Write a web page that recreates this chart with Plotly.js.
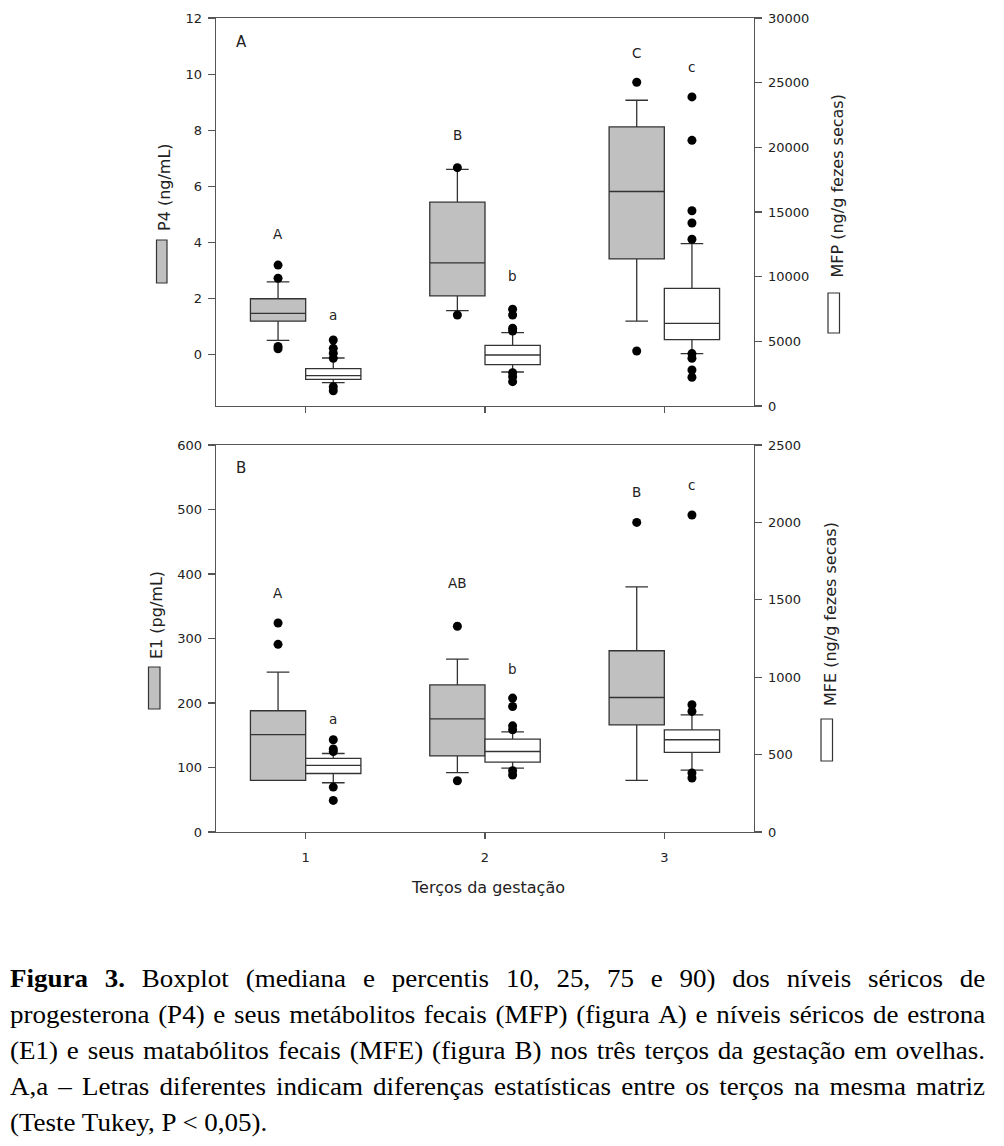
<!DOCTYPE html>
<html><head><meta charset="utf-8">
<script src="https://cdn.plot.ly/plotly-3.0.1.min.js"></script>
<style>
body{margin:0;background:#fff;}
#chart{position:absolute;left:0;top:0;width:1004px;height:1146px;}
#caption{position:absolute;left:10px;top:961px;width:903px;transform:scaleX(1.08);transform-origin:0 0;font-family:'Liberation Serif','Times New Roman',serif;font-size:25px;line-height:36px;color:#000;}
.jl{display:flex;justify-content:space-between;white-space:nowrap;}
.ll{white-space:nowrap;}
</style></head><body>
<div id="chart"></div>
<div id="caption"></div>
<script>
// ---------- data ----------
const thirds = [1, 2, 3];

// Panel A: P4 (ng/mL) - left axis
const p4P10 = [0.52, 1.58, 1.20];
const p4Q1  = [1.20, 2.10, 3.42];
const p4Med = [1.48, 3.28, 5.82];
const p4Q3  = [2.00, 5.44, 8.12];
const p4P90 = [2.60, 6.61, 9.07];
const p4Out = [[3.20, 2.73, 0.30, 0.22], [6.67, 1.42], [9.71, 0.14]];
const p4Letters = ['A', 'B', 'C'];
const p4LetterY = [4.3, 7.85, 10.77];

// Panel A: MFP (ng/g fezes secas) - right axis
const mfpP10 = [1802, 2629, 4044];
const mfpQ1  = [2064, 3195, 5126];
const mfpMed = [2343, 3943, 6394];
const mfpQ3  = [2884, 4691, 9100];
const mfpP90 = [3711, 5669, 12549];
const mfpOut = [[5100, 4460, 4080, 3690, 1490, 1180],
                [7480, 7040, 6010, 5800, 2580, 2270, 1880],
                [23900, 20540, 15100, 14150, 12890, 4050, 3690, 2780, 2220]];
const mfpLetters = ['a', 'b', 'c'];
const mfpLetterY = [7040, 10050, 26240];

// Panel B: E1 (pg/mL) - left axis
const e1P10 = [80, 92, 80];
const e1Q1  = [80, 118, 166];
const e1Med = [151, 175.5, 208.5];
const e1Q3  = [188, 228, 281];
const e1P90 = [248, 268, 380];
const e1Out = [[324, 291], [319, 79.5], [480]];
const e1Letters = ['A', 'AB', 'B'];
const e1LetterY = [371, 386, 527];

// Panel B: MFE (ng/g fezes secas) - right axis
const mfeP10 = [318, 413, 400];
const mfeQ1  = [378, 452, 514];
const mfeMed = [430, 520, 596];
const mfeQ3  = [475, 600, 660];
const mfeP90 = [507, 647, 757];
const mfeOut = [[596, 536, 520, 290, 204], [865, 811, 686, 660, 396, 368], [2048, 822, 779, 381, 349]];
const mfeLetters = ['a', 'b', 'c'];
const mfeLetterY = [729, 1056, 2242];

const p4Ticks  = [0, 2, 4, 6, 8, 10, 12];
const mfpTicks = [0, 5000, 10000, 15000, 20000, 25000, 30000];
const e1Ticks  = [0, 100, 200, 300, 400, 500, 600];
const mfeTicks = [0, 500, 1000, 1500, 2000, 2500];

const captionLines = [
  ['**Figura', '**3.', 'Boxplot', '(mediana', 'e', 'percentis', '10,', '25,', '75', 'e', '90)', 'dos', 'níveis', 'séricos', 'de'],
  'progesterona (P4) e seus metábolitos fecais (MFP) (figura A) e níveis séricos de estrona'.split(' '),
  '(E1) e seus matabólitos fecais (MFE)  (figura B) nos três terços da gestação em ovelhas.'.split(' ').filter(w => w.length),
  'A,a – Letras diferentes indicam diferenças estatísticas entre os terços na mesma matriz'.split(' ')
];
const captionLast = '(Teste Tukey, P < 0,05).';

// ---------- styles ----------
const GRAY = '#c0c0c0';
const LINE = '#333333';
const AXC = '#555555';
const OFF = 0.154;
const BOXW = 0.308;

function boxTrace(lo, q1, med, q3, hi, offset, fill, xa, ya) {
  return {
    type: 'box', x: thirds.map(t => t + offset),
    lowerfence: lo, q1: q1, median: med, q3: q3, upperfence: hi,
    width: BOXW, whiskerwidth: 0.41, fillcolor: fill,
    line: {color: LINE, width: 1.3}, boxpoints: false,
    xaxis: xa, yaxis: ya, hoverinfo: 'skip'
  };
}
function outTrace(groups, offset, xa, ya) {
  const xs = [], ys = [];
  groups.forEach((g, i) => g.forEach(v => { xs.push(thirds[i] + offset); ys.push(v); }));
  return {type: 'scatter', mode: 'markers', x: xs, y: ys, xaxis: xa, yaxis: ya,
          marker: {color: '#000', size: 9}, hoverinfo: 'skip'};
}

const traces = [
  boxTrace(p4P10, p4Q1, p4Med, p4Q3, p4P90, -OFF, GRAY, 'x', 'y'),
  outTrace(p4Out, -OFF, 'x', 'y'),
  boxTrace(mfpP10, mfpQ1, mfpMed, mfpQ3, mfpP90, OFF, '#ffffff', 'x', 'y2'),
  outTrace(mfpOut, OFF, 'x', 'y2'),
  boxTrace(e1P10, e1Q1, e1Med, e1Q3, e1P90, -OFF, GRAY, 'x2', 'y3'),
  outTrace(e1Out, -OFF, 'x2', 'y3'),
  boxTrace(mfeP10, mfeQ1, mfeMed, mfeQ3, mfeP90, OFF, '#ffffff', 'x2', 'y4'),
  outTrace(mfeOut, OFF, 'x2', 'y4')
];

// pixel -> paper helpers (plot area: x 216..754, y 18..832)
const L = 216, R = 250, T = 18, B = 314, W = 1004, H = 1146;
const pw = W - L - R, ph = H - T - B;
const px = v => (v - L) / pw;
const py = v => (H - B - v) / ph;

const tickFont = {family: 'DejaVu Sans, sans-serif', size: 13, color: '#222'};
const titleFont = {family: 'DejaVu Sans, sans-serif', size: 16, color: '#222'};
const letterFont = {family: 'DejaVu Sans, sans-serif', size: 13.5, color: '#222'};

function xAx(anchor, labels) {
  return {anchor: anchor, domain: [0, 1], range: [0.5, 3.5], tickvals: thirds, ticktext: thirds.map(String),
          showticklabels: labels, ticks: 'outside', ticklen: 6, tickwidth: 1.2, tickcolor: AXC,
          showline: true, mirror: true, linecolor: AXC, linewidth: 1.3, showgrid: false, zeroline: false,
          tickfont: tickFont, ticklabelstandoff: 7, fixedrange: true};
}
function yAx(anchor, domain, range, ticks, side, overlay) {
  const a = {anchor: anchor, range: range, tickvals: ticks, ticktext: ticks.map(String), side: side,
             ticks: 'outside', ticklen: 7, tickwidth: 1.2, tickcolor: AXC, showline: true, linecolor: AXC,
             linewidth: 1.3, showgrid: false, zeroline: false, tickfont: tickFont, ticklabelstandoff: 3,
             fixedrange: true};
  if (overlay) a.overlaying = overlay; else a.domain = domain;
  return a;
}

const topDom = [py(406), 1];
const botDom = [0, py(445)];

const annotations = [];
function letters(txt, ys, offset, xref, yref) {
  txt.forEach((t, i) => annotations.push({text: t, x: thirds[i] + offset, y: ys[i], xref: xref, yref: yref,
    showarrow: false, xanchor: 'center', yanchor: 'middle', font: letterFont}));
}
letters(p4Letters, p4LetterY, -OFF, 'x', 'y');
letters(mfpLetters, mfpLetterY, OFF, 'x', 'y2');
letters(e1Letters, e1LetterY, -OFF, 'x2', 'y3');
letters(mfeLetters, mfeLetterY, OFF, 'x2', 'y4');

function pAnn(text, x, y, angle, font) {
  annotations.push({text: text, xref: 'paper', yref: 'paper', x: px(x), y: py(y), textangle: angle,
    showarrow: false, xanchor: 'center', yanchor: 'middle', font: font});
}
pAnn('A', 241, 42, 0, {family: 'DejaVu Sans, sans-serif', size: 15, color: '#222'});
pAnn('B', 241, 468, 0, {family: 'DejaVu Sans, sans-serif', size: 15, color: '#222'});
pAnn('P4 (ng/mL)', 165, 187, -90, titleFont);
pAnn('MFP (ng/g fezes secas)', 836.5, 186, -90, titleFont);
pAnn('E1 (pg/mL)', 156, 615, -90, titleFont);
pAnn('MFE (ng/g fezes secas)', 830, 614, -90, titleFont);
pAnn('Terços da gestação', 488, 888, 0, titleFont);

function legRect(x0, x1, y0, y1, fill) {
  return {type: 'rect', xref: 'paper', yref: 'paper', x0: px(x0), x1: px(x1), y0: py(y1), y1: py(y0),
          fillcolor: fill, line: {color: LINE, width: 1.2}};
}
const shapes = [
  legRect(156.5, 167, 240, 283, GRAY),
  legRect(828, 839.5, 293, 333, '#ffffff'),
  legRect(148.5, 160, 667, 709, GRAY),
  legRect(821, 832.5, 719, 761, '#ffffff')
];

const layout = {
  width: W, height: H, margin: {l: L, r: R, t: T, b: B, pad: 0},
  paper_bgcolor: '#ffffff', plot_bgcolor: '#ffffff', showlegend: false, hovermode: false,
  font: {family: 'DejaVu Sans, sans-serif', size: 13, color: '#222'},
  xaxis: xAx('y', false),
  yaxis: yAx('x', topDom, [-1.82, 12], p4Ticks, 'left'),
  yaxis2: yAx('x', null, [0, 30000], mfpTicks, 'right', 'y'),
  xaxis2: xAx('y3', true),
  yaxis3: yAx('x2', botDom, [0, 600], e1Ticks, 'left'),
  yaxis4: yAx('x2', null, [0, 2500], mfeTicks, 'right', 'y3'),
  annotations: annotations, shapes: shapes
};

Plotly.newPlot('chart', traces, layout, {staticPlot: true, displayModeBar: false});

// ---------- caption ----------
const cap = document.getElementById('caption');
captionLines.forEach(words => {
  const d = document.createElement('div');
  d.className = 'jl';
  words.forEach(w => {
    const s = document.createElement('span');
    if (w.startsWith('**')) { s.style.fontWeight = 'bold'; s.textContent = w.slice(2); }
    else s.textContent = w;
    d.appendChild(s);
  });
  cap.appendChild(d);
});
const last = document.createElement('div');
last.className = 'll';
last.textContent = captionLast;
cap.appendChild(last);
</script>
</body></html>
